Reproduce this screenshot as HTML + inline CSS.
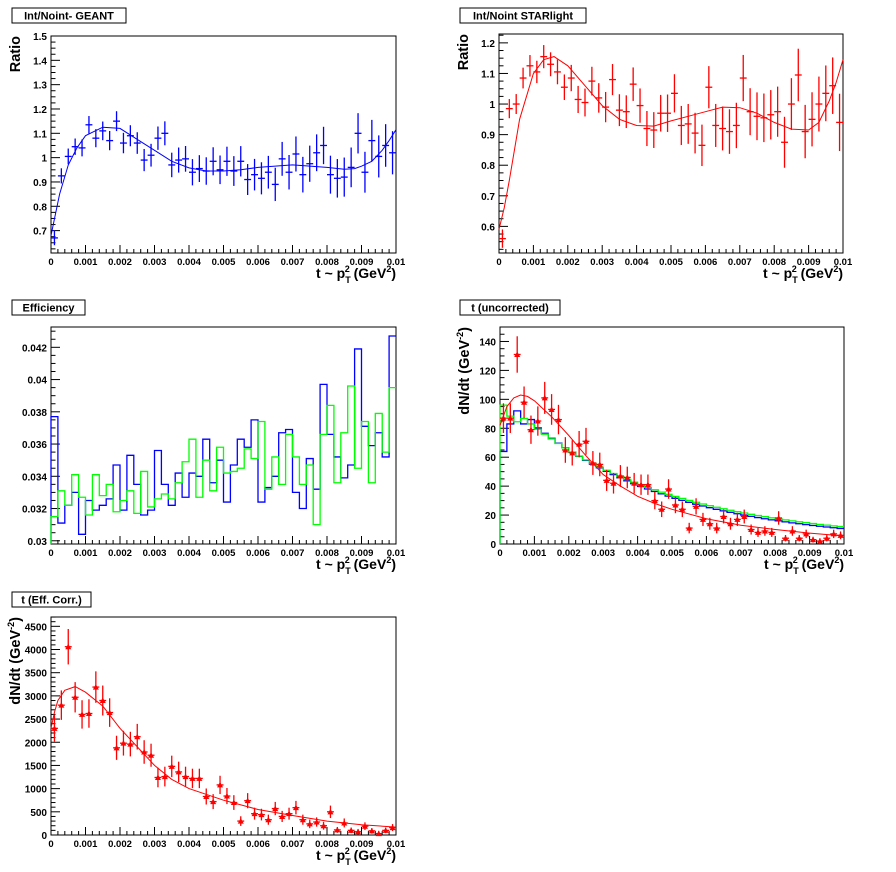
<!DOCTYPE html>
<html><head><meta charset="utf-8"><style>
html,body{margin:0;padding:0;background:#fff}
svg{display:block}
text{font-family:"Liberation Sans",Arial,sans-serif;font-weight:bold}
</style></head><body>
<svg id="s" width="896" height="872" xmlns="http://www.w3.org/2000/svg"></svg>
<script>
const S=document.getElementById('s');let out='';
function add(h){out+=h;}
function pad(o){
 const {x0,x1,y0,y1,ymin,ymax}=o;
 const X=v=>x0+(v/0.01)*(x1-x0), Y=v=>y1-(v-ymin)/(ymax-ymin)*(y1-y0);
 o.X=X;o.Y=Y;
 // title box
 const t=o.title;add(`<rect x="${t[0]}" y="${t[1]}" width="${t[2]}" height="15" fill="#fff" stroke="#000" stroke-width="1"/>`);
 add(`<text x="${t[0]+t[2]/2}" y="${t[1]+11.5}" font-size="11" text-anchor="middle">${t[3]}</text>`);
 add(`<rect x="${x0}" y="${y0}" width="${x1-x0}" height="${y1-y0}" fill="none" stroke="#000" stroke-width="1"/>`);
 // x ticks
 for(let i=0;i<=50;i++){const v=i*0.0002,x=X(v),L=(i%5==0)?8:4;add(`<line x1="${x}" y1="${y1}" x2="${x}" y2="${y1-L}" stroke="#000"/>`);}
 for(let i=0;i<=10;i++){const x=X(i*0.001);add(`<text x="${x}" y="${y1+12}" font-size="9.5" text-anchor="middle">${i==0?'0':i==10?'0.01':(i*0.001).toFixed(3)}</text>`);}
 // y ticks
 const [mj,nm,dec]=o.yt;const mn=mj/nm;
 for(let v=Math.ceil(ymin/mn-1e-6)*mn;v<=ymax+1e-9;v+=mn){const y=Y(v);const isM=Math.abs(v/mj-Math.round(v/mj))<1e-6;
  add(`<line x1="${x0}" y1="${y}" x2="${x0+(isM?9:4.5)}" y2="${y}" stroke="#000"/>`);
  if(isM)add(`<text x="${x0-4}" y="${y+4}" font-size="10" text-anchor="end">${(+v.toFixed(6)).toString()}</text>`);}
 // axis titles
 add(`<text x="${x1}" y="${y1+25}" font-size="14" text-anchor="end">t ~ p<tspan font-size="9" dy="5">T</tspan><tspan font-size="9" dx="-6" dy="-11">2</tspan><tspan dy="6"> (GeV</tspan><tspan font-size="9" dy="-6">2</tspan><tspan dy="6">)</tspan></text>`);
 if(o.ylab){add(`<text transform="translate(${o.ylx},${y0}) rotate(-90)" font-size="14.5" text-anchor="end">${o.ylab}</text>`);}
 return o;
}
function clipY(o,v){return Math.max(o.y0,Math.min(o.y1,o.Y(v)));}
function curve(o,pts,col){add(`<polyline fill="none" stroke="${col}" stroke-width="1" points="${pts.map(p=>o.X(p[0]).toFixed(1)+','+clipY(o,p[1]).toFixed(1)).join(' ')}"/>`);}
function crosses(o,vals,errs,col,tri){
 vals.forEach((v,i)=>{const c=0.0001+i*0.0002,e=errs(v,i);const x=o.X(c),y=o.Y(v);
  add(`<line x1="${o.X(c-0.0001)}" y1="${y}" x2="${o.X(c+0.0001)}" y2="${y}" stroke="${col}" stroke-width="1.3"/>`);
  add(`<line x1="${x}" y1="${clipY(o,v+e)}" x2="${x}" y2="${clipY(o,v-e)}" stroke="${col}" stroke-width="1.3"/>`);
  if(tri)add(`<polygon points="${x-3},${y+2.5} ${x+3},${y+2.5} ${x},${y-3}" fill="${col}"/>`);});
}
function hist(o,vals,col){let d=`M${o.X(0)},${o.y1}`;vals.forEach((v,i)=>{const y=clipY(o,v);d+=` L${o.X(i*0.0002)},${y} L${o.X((i+1)*0.0002)},${y}`;});add(`<path d="${d}" fill="none" stroke="${col}" stroke-width="1.3"/>`);}

// Pad 1
let p=pad({x0:51,x1:396,y0:36,y1:253,ymin:0.608,ymax:1.5,yt:[0.1,4],title:[12,8,114,'Int/Noint- GEANT'],ylab:'Ratio',ylx:20});
let g=[0.67,0.925,1.005,1.045,1.04,1.135,1.08,1.11,1.07,1.15,1.06,1.09,1.06,0.99,1.01,1.08,1.10,0.97,0.99,0.995,0.94,0.955,0.945,0.985,0.95,0.985,0.945,0.985,0.91,0.93,0.915,0.94,0.89,0.995,0.94,1.015,0.93,0.975,1.02,1.05,0.93,0.915,0.92,0.96,1.10,0.94,1.07,1.005,1.05,1.02];
crosses(p,g,(v,i)=>0.03+i*0.0012,'#00f');
curve(p,[[0,0.68],[0.00025,0.85],[0.0005,0.97],[0.00075,1.04],[0.001,1.09],[0.0015,1.125],[0.002,1.12],[0.0025,1.075],[0.003,1.03],[0.0035,0.985],[0.004,0.958],[0.0045,0.945],[0.005,0.945],[0.0055,0.95],[0.006,0.96],[0.007,0.97],[0.008,0.96],[0.0085,0.952],[0.0088,0.955],[0.009,0.965],[0.0093,0.985],[0.0096,1.03],[0.0098,1.07],[0.01,1.115]],'#00f');

// Pad 2
p=pad({x0:499,x1:843,y0:34,y1:253,ymin:0.513,ymax:1.229,yt:[0.1,4],title:[460,8,126,'Int/Noint STARlight'],ylab:'Ratio',ylx:468});
let r=[0.56,0.985,1.0,1.085,1.125,1.105,1.155,1.13,1.105,1.055,1.085,1.015,1.005,1.075,1.02,0.99,1.08,0.98,0.975,1.065,0.995,0.92,0.915,0.97,0.97,1.035,0.93,0.935,0.905,0.865,1.055,0.93,0.92,0.91,0.93,1.085,0.975,0.96,0.955,0.965,0.975,0.875,1.0,1.095,0.91,0.95,1.0,1.035,1.06,0.94];
crosses(p,r,(v,i)=>0.03+i*0.0013,'#f00');
curve(p,[[0,0.59],[0.00015,0.66],[0.0003,0.75],[0.0006,0.95],[0.001,1.1],[0.0013,1.145],[0.0016,1.155],[0.002,1.125],[0.0025,1.06],[0.003,0.995],[0.0035,0.95],[0.004,0.93],[0.0045,0.928],[0.005,0.945],[0.0055,0.96],[0.006,0.975],[0.0065,0.99],[0.007,0.988],[0.0075,0.97],[0.008,0.94],[0.0085,0.918],[0.009,0.915],[0.0093,0.94],[0.0096,1.01],[0.0098,1.07],[0.01,1.145]],'#f00');

// Pad 3
p=pad({x0:51,x1:396,y0:327,y1:544,ymin:0.0298,ymax:0.04326,yt:[0.002,4],title:[12,300,73,'Efficiency'],ylab:'',ylx:0});
hist(p,[0.0377,0.0311,0.0322,0.0330,0.0304,0.0325,0.0319,0.0322,0.0326,0.0347,0.0319,0.0353,0.0335,0.0316,0.0319,0.0356,0.0335,0.0322,0.0342,0.0327,0.0342,0.0340,0.0363,0.0336,0.0350,0.0324,0.0347,0.0363,0.0358,0.0375,0.0324,0.0333,0.0340,0.0367,0.0369,0.0330,0.0320,0.0351,0.0332,0.0397,0.0366,0.0352,0.0339,0.0347,0.0419,0.0371,0.0359,0.0367,0.0352,0.0427],'#00f');
hist(p,[0.0315,0.0331,0.0322,0.0341,0.0327,0.0316,0.0341,0.0328,0.0335,0.0318,0.0325,0.0331,0.0317,0.0343,0.0321,0.0326,0.0329,0.0326,0.0336,0.0349,0.0363,0.0327,0.0350,0.0331,0.0358,0.0342,0.0343,0.0345,0.0357,0.0351,0.0374,0.0332,0.0352,0.0335,0.0366,0.0352,0.0335,0.0347,0.0310,0.0366,0.0384,0.0336,0.0367,0.0396,0.0345,0.0374,0.0336,0.0379,0.0355,0.0395],'#0f0');

// Pad 4
p=pad({x0:500,x1:844,y0:327,y1:544,ymin:0,ymax:150,yt:[20,4],title:[460,300,100,'t (uncorrected)'],ylab:'dN/dt (GeV<tspan font-size="9" dy="-6">-2</tspan><tspan dy="6">)</tspan>',ylx:469});
let bl=[],gr=[];for(let i=0;i<50;i++){const t=0.0001+i*0.0002;gr.push(i==0?96:100*Math.exp(-t/0.0044)*(i<3?0.93:1)+1.5);bl.push(i==0?64:i==1?83:i==2?92:(i==3?83:i==4?86:103*Math.exp(-t/0.0042)+1));}
hist(p,bl,'#00f');hist(p,gr,'#0f0');
let u=[87,87,131,98,79,85,101,93,86,65,63,69,71,56,55,44,42,47,46,42,41,41,30,24,38,27,24,11,26,17,14,11,19,14,17,19,10,8,9,8,18,4,9,4,7,3,2,4,7,6];
crosses(p,u,(v)=>Math.max(2,Math.sqrt(v)*1.1),'#f00',true);
curve(p,[[0,82],[0.0002,95],[0.0004,101],[0.0006,103],[0.0008,102],[0.001,99],[0.0015,88],[0.002,75],[0.0025,61],[0.003,48],[0.0035,40],[0.004,33],[0.0045,28],[0.005,24],[0.006,17.5],[0.007,13],[0.008,10],[0.009,7.5],[0.01,5.5]],'#f00');

// Pad 5
p=pad({x0:51,x1:396,y0:617,y1:835,ymin:0,ymax:4701,yt:[500,5],title:[12,592,79,'t (Eff. Corr.)'],ylab:'dN/dt (GeV<tspan font-size="9" dy="-6">-2</tspan><tspan dy="6">)</tspan>',ylx:20});
let c=[2300,2800,4060,2970,2600,2620,3190,2900,2640,1880,1980,1960,2120,1790,1720,1240,1260,1480,1360,1260,1220,1220,830,720,1080,840,700,300,740,460,440,330,570,400,460,590,330,240,280,200,500,110,260,100,70,190,90,30,100,160];
crosses(p,c,(v)=>Math.max(60,Math.sqrt(v)*6),'#f00',true);
curve(p,[[0,2300],[0.0001,2650],[0.0002,2900],[0.0004,3120],[0.0007,3200],[0.001,3080],[0.0015,2780],[0.002,2300],[0.0025,1900],[0.003,1500],[0.0035,1200],[0.004,1000],[0.005,750],[0.006,550],[0.007,420],[0.008,300],[0.009,220],[0.01,170]],'#f00');

S.innerHTML=out;
</script>
</body></html>
